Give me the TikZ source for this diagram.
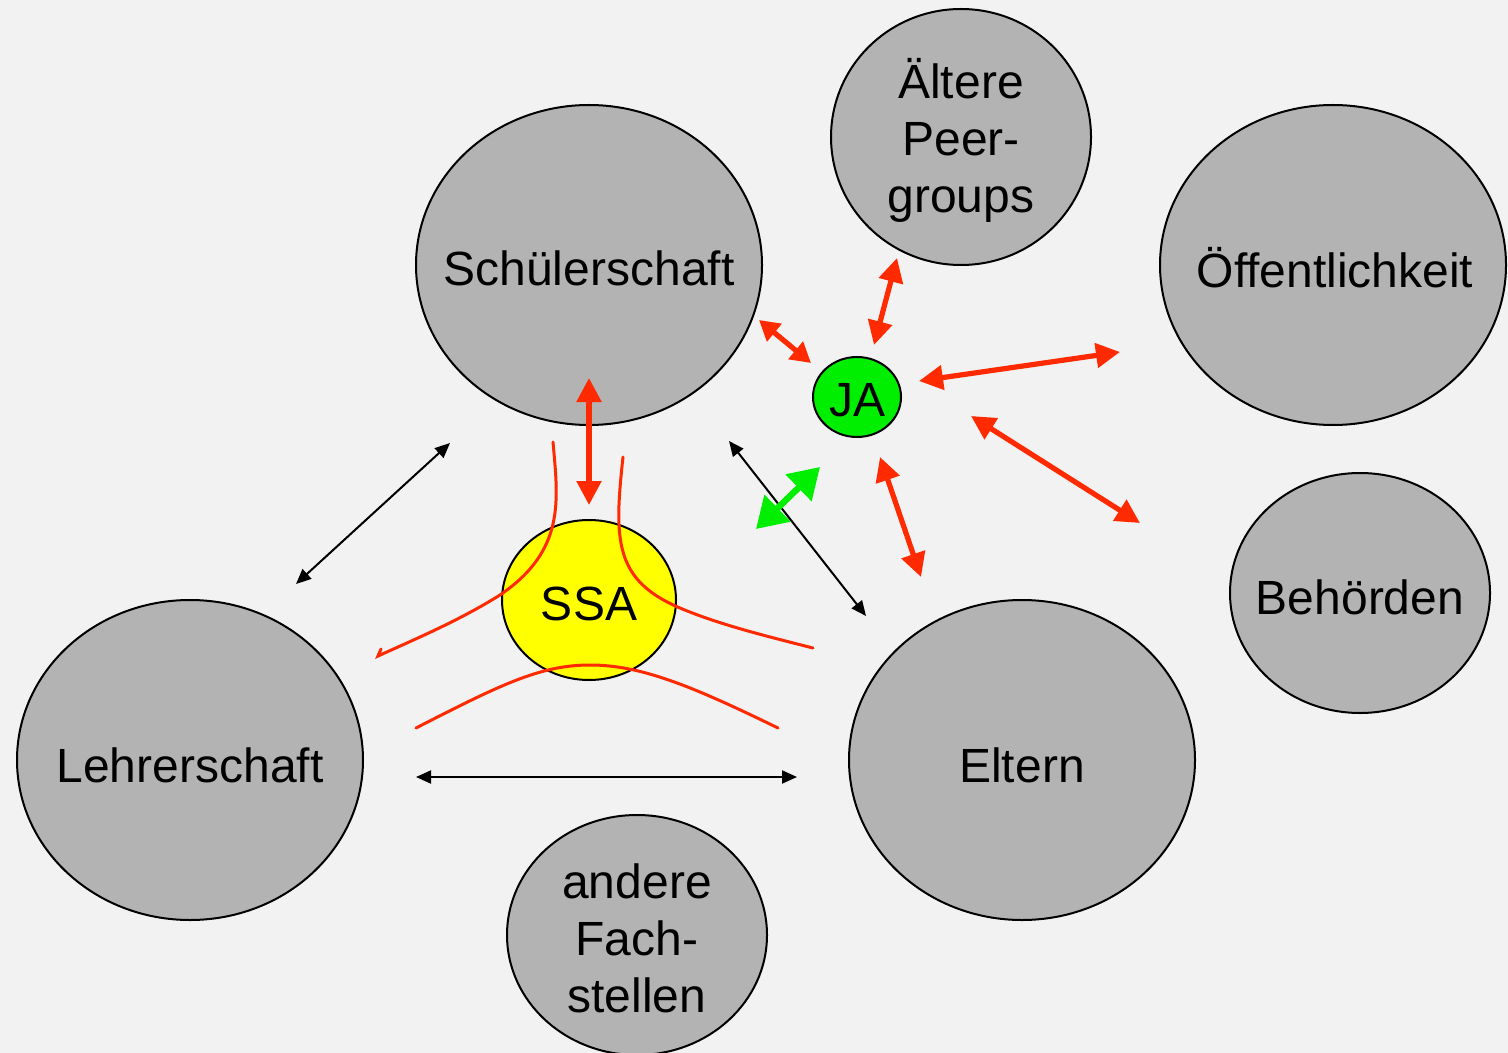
\documentclass[tikz,border=0pt]{standalone}
\usepackage{fontspec}
\setmainfont{Liberation Sans}
\usetikzlibrary{shapes.geometric,arrows.meta}
\definecolor{bg}{HTML}{F2F2F2}
\definecolor{blobgray}{HTML}{B3B3B3}
\definecolor{redline}{HTML}{FF2A00}
\definecolor{jagreen}{HTML}{00EE00}
\definecolor{arrgreen}{HTML}{00EE00}
\definecolor{ssayellow}{HTML}{FFFF00}
\tikzset{
  blob/.style={ellipse, draw=black, line width=1pt, fill=blobgray, inner sep=0pt},
  lbl/.style={font=\fontsize{24}{28.5}\selectfont, align=center, inner sep=0pt},
  redarrow/.style={draw=redline, line width=2.6pt, {Triangle[length=12pt,width=12pt]}-{Triangle[length=12pt,width=12pt]}},
  smallred/.style={draw=redline, line width=2.6pt, {Triangle[length=10pt,width=11pt]}-{Triangle[length=10pt,width=11pt]}},
  greenarrow/.style={draw=arrgreen, line width=3.2pt, {Triangle[length=15pt,width=18pt]}-{Triangle[length=15pt,width=18pt]}},
  blackarrow/.style={draw=black, line width=1pt, {Triangle[length=7.5pt,width=6.5pt]}-{Triangle[length=7.5pt,width=6.5pt]}},
  redcurve/.style={draw=redline, line width=1.5pt, line cap=round}
}
\begin{document}
\begin{tikzpicture}[x=0.5pt,y=-0.5pt]
\fill[bg] (0,0) rectangle (1508,1053);
\useasboundingbox (0,0) rectangle (1508,1053);

% big ellipses
\node[blob, minimum width=173pt, minimum height=160pt] (schueler) at (589,265) {};
\node[lbl] (schuelerT) at (589,268) {Schülerschaft};
\node[blob, minimum width=130pt, minimum height=128pt] (peer) at (961,137) {};
\node[lbl] (peerT) at (961,140) {Ältere\\Peer-\\groups};
\node[blob, minimum width=173pt, minimum height=160pt] (oeff) at (1333,265) {};
\node[lbl] (oeffT) at (1335,268) {Öffentlichkeit};
\node[blob, minimum width=130pt, minimum height=120pt] (behoerden) at (1360,593) {};
\node[lbl] (behoerdenT) at (1360,597) {Behörden};
\node[blob, minimum width=173pt, minimum height=160pt] (eltern) at (1022,760) {};
\node[lbl] (elternT) at (1022,765) {Eltern};
\node[blob, minimum width=173pt, minimum height=160pt] (lehrer) at (190,760) {};
\node[lbl] (lehrerT) at (190,765) {Lehrerschaft};
\node[blob, minimum width=130pt, minimum height=120pt] (fach) at (637,935) {};
\node[lbl] (fachT) at (637,938) {andere\\Fach-\\stellen};

% SSA and JA
\node[ellipse, draw=black, line width=1pt, fill=ssayellow, minimum width=87pt, minimum height=80pt, inner sep=0pt] (ssa) at (589,600) {};
\node[lbl] (ssaT) at (589,604) {SSA};
\node[ellipse, draw=black, line width=1pt, fill=jagreen, minimum width=44pt, minimum height=40pt, inner sep=0pt] (ja) at (857,397) {};
\node[lbl] (jaT) at (857,400) {JA};

% red curves
\draw[redcurve] (553,442) .. controls (558,500) and (566,550) .. (500,595)
   .. controls (460,620) and (420,637) .. (378,656) -- (381,649);
\draw[redcurve] (623,457) .. controls (614,540) and (614,580) .. (680,608)
   .. controls (720,625) and (770,637) .. (813,648);
\draw[redcurve] (416,728) .. controls (500,685) and (540,665) .. (590,665)
   .. controls (640,665) and (690,685) .. (778,728);

% arrow endpoints
\coordinate (a1) at (450,443); \coordinate (a2) at (296,584);
\coordinate (b1) at (729,441); \coordinate (b2) at (866,616);
\coordinate (c1) at (416,777); \coordinate (c2) at (797,777);
\coordinate (s1) at (589,378); \coordinate (s2) at (589,505);
\coordinate (j1) at (759,320); \coordinate (j2) at (811,363);
\coordinate (p1) at (897,258); \coordinate (p2) at (874,345);
\coordinate (o1) at (919,381); \coordinate (o2) at (1120,352);
\coordinate (h1) at (971,416); \coordinate (h2) at (1140,523);
\coordinate (e1) at (880,457); \coordinate (e2) at (921,577);
\coordinate (g1) at (756,529); \coordinate (g2) at (820,467);

% black arrows
\draw[blackarrow] (a1) -- (a2);
\draw[blackarrow] (b1) -- (b2);
\draw[blackarrow] (c1) -- (c2);

% red arrows
\draw[redarrow] (s1) -- (s2);
\draw[smallred] (j1) -- (j2);
\draw[redarrow] (p1) -- (p2);
\draw[redarrow] (o1) -- (o2);
\draw[redarrow] (h1) -- (h2);
\draw[redarrow] (e1) -- (e2);

% green arrow
\draw[greenarrow] (g1) -- (g2);
\end{tikzpicture}
\end{document}
